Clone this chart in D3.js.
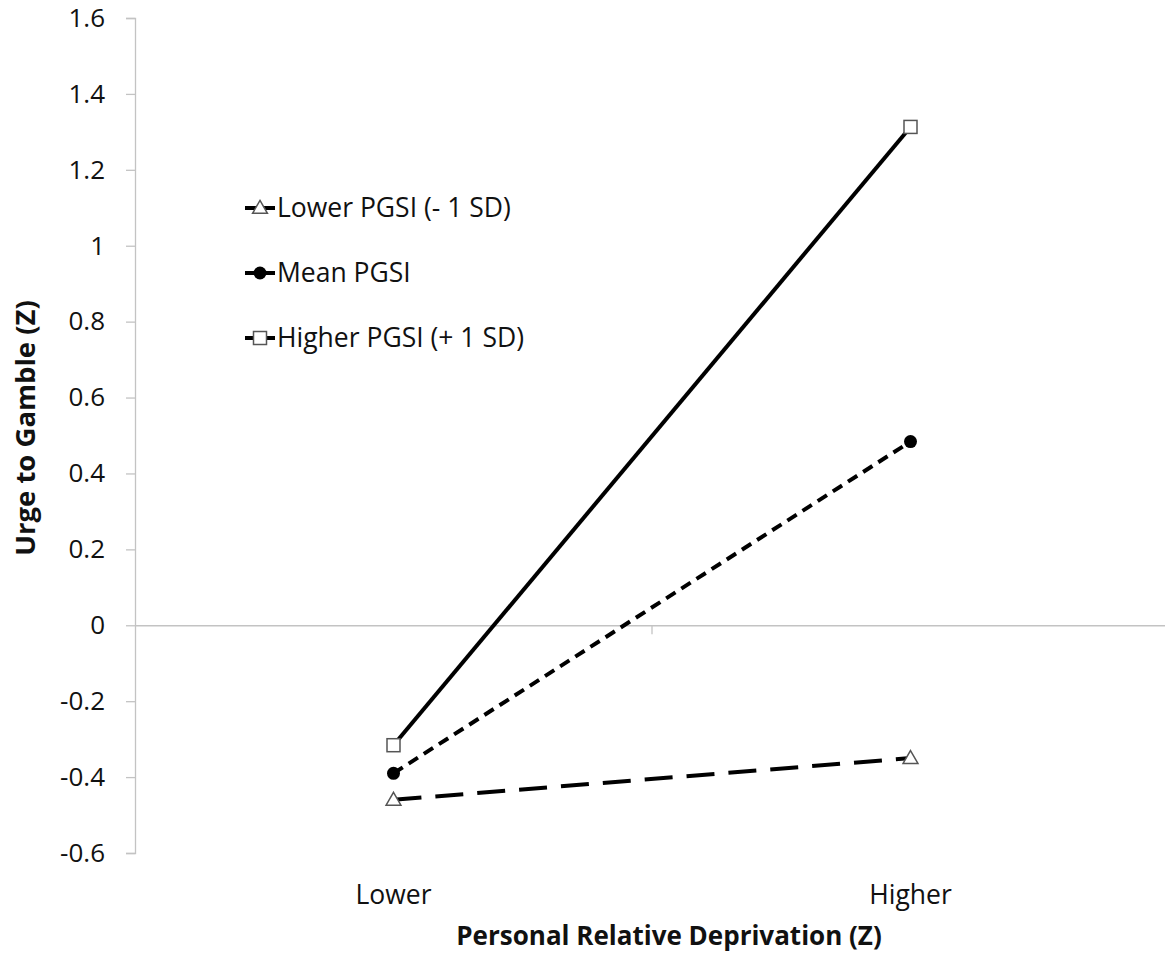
<!DOCTYPE html>
<html>
<head>
<meta charset="utf-8">
<script src="https://cdn.jsdelivr.net/npm/d3@7"></script>
<style>
  body { margin: 0; background: #fff; }
  svg { display: block; font-family: "Open Sans", sans-serif; }
</style>
</head>
<body>
<svg width="1165" height="955"></svg>
<script>
// categories on the x axis
const categories = ["Lower", "Higher"];
// series names and values (Urge to Gamble, Z)
const seriesNames = ["Lower PGSI (- 1 SD)", "Mean PGSI", "Higher PGSI (+ 1 SD)"];
const lowerValues = [-0.46, -0.35];
const meanValues = [-0.39, 0.484];
const higherValues = [-0.316, 1.313];
const yTicks = [-0.6, -0.4, -0.2, 0, 0.2, 0.4, 0.6, 0.8, 1, 1.2, 1.4, 1.6];

const svg = d3.select("svg");

// plot area
const plotLeft = 135, plotRight = 1169, plotTop = 18, plotBottom = 853;

const x = d3.scaleBand().domain(categories).range([plotLeft, plotRight]);
const y = d3.scaleLinear().domain([-0.6, 1.6]).range([plotBottom, plotTop]);

const axisColor = "#c3c3c3";

// y axis (plain hyphen for negatives, like the original)
const yAxis = svg.append("g")
  .attr("transform", `translate(${plotLeft},0)`)
  .call(d3.axisLeft(y).tickValues(yTicks).tickSize(9).tickPadding(21)
    .tickFormat((d) => String(+d.toFixed(1))));
yAxis.select(".domain").attr("stroke", axisColor).attr("stroke-width", 1.3);
yAxis.selectAll(".tick line").attr("stroke", axisColor).attr("stroke-width", 1.3);
yAxis.selectAll(".tick text")
  .attr("font-size", 26)
  .attr("fill", "#111")
  .attr("font-family", "Open Sans, sans-serif");

// x axis along zero
const xAxis = svg.append("g")
  .attr("transform", `translate(0,${y(0)})`)
  .call(d3.axisBottom(x).tickSize(0).tickPadding(0).tickFormat(""));
xAxis.select(".domain").attr("stroke", axisColor).attr("stroke-width", 1.3);
// category separators (tick marks between bands)
svg.append("g")
  .selectAll("line")
  .data(categories.slice(1))
  .join("line")
  .attr("x1", (d) => x(d))
  .attr("x2", (d) => x(d))
  .attr("y1", y(0))
  .attr("y2", y(0) + 9)
  .attr("stroke", axisColor)
  .attr("stroke-width", 1.3);

// category labels at the bottom
svg.append("g")
  .selectAll("text")
  .data(categories)
  .join("text")
  .text((d) => d)
  .attr("x", (d) => x(d) + x.bandwidth() / 2)
  .attr("y", 904)
  .attr("text-anchor", "middle")
  .attr("font-size", 26.5)
  .attr("fill", "#111");

// axis titles
svg.append("text")
  .text("Personal Relative Deprivation (Z)")
  .attr("x", 669)
  .attr("y", 945)
  .attr("text-anchor", "middle")
  .attr("font-size", 26)
  .attr("font-weight", 700)
  .attr("fill", "#111");
svg.append("text")
  .text("Urge to Gamble (Z)")
  .attr("transform", `translate(35,428) rotate(-90)`)
  .attr("text-anchor", "middle")
  .attr("font-size", 27.5)
  .attr("font-weight", 700)
  .attr("fill", "#111");

// series definitions
const series = [
  { name: seriesNames[0], values: lowerValues, dash: "28,14", marker: "triangle" },
  { name: seriesNames[1], values: meanValues, dash: "11,7", marker: "circle" },
  { name: seriesNames[2], values: higherValues, dash: null, marker: "square" }
];

const line = d3.line()
  .x((d, i) => x(categories[i]) + x.bandwidth() / 2)
  .y((d) => y(d));

const graf = svg.append("g");

graf.selectAll("path.series")
  .data(series)
  .join("path")
  .attr("class", "series")
  .attr("d", (s) => line(s.values))
  .attr("fill", "none")
  .attr("stroke", "#000")
  .attr("stroke-width", 4)
  .attr("stroke-dasharray", (s) => s.dash);

// markers
const drawMarker = (g, type, cx, cy) => {
  if (type === "circle") {
    g.append("circle").attr("cx", cx).attr("cy", cy).attr("r", 6.5).attr("fill", "#000");
  } else if (type === "square") {
    g.append("rect")
      .attr("x", cx - 6.5).attr("y", cy - 6.5)
      .attr("width", 13).attr("height", 13)
      .attr("fill", "#fff").attr("stroke", "#555").attr("stroke-width", 1.5);
  } else {
    const sym = d3.symbol().type(d3.symbolTriangle).size(95);
    g.append("path")
      .attr("d", sym())
      .attr("transform", `translate(${cx},${cy + 1})`)
      .attr("fill", "#fff").attr("stroke", "#555").attr("stroke-width", 1.5);
  }
};

series.forEach((s) => {
  s.values.forEach((v, i) => {
    drawMarker(graf, s.marker, x(categories[i]) + x.bandwidth() / 2, y(v));
  });
});

// legend
const legend = svg.append("g").attr("transform", "translate(245,208)");
series.forEach((s, i) => {
  const row = legend.append("g").attr("transform", `translate(0,${i * 65})`);
  row.append("line")
    .attr("x1", 0).attr("x2", 30)
    .attr("y1", 0).attr("y2", 0)
    .attr("stroke", "#000").attr("stroke-width", 4);
  drawMarker(row, s.marker, 15, 0);
  row.append("text")
    .text(s.name)
    .attr("x", 32)
    .attr("y", 0)
    .attr("dy", "0.35em")
    .attr("font-size", 26.5)
    .attr("fill", "#111");
});
</script>
</body>
</html>
